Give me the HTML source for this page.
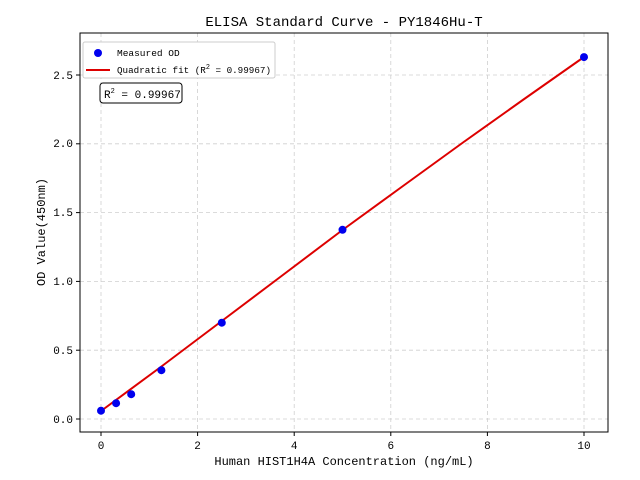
<!DOCTYPE html>
<html><head><meta charset="utf-8"><style>body{margin:0;background:#fff}svg{display:block}text{font-family:"Liberation Mono","WenQuanYi Zen Hei",monospace;fill:#000}</style></head><body>
<svg width="640" height="480" viewBox="0 0 640 480">
<rect width="640" height="480" fill="#fff"/>
<g stroke="#cfcfcf" stroke-dasharray="4,3" stroke-width="0.8">
<line x1="101" y1="33" x2="101" y2="432"/><line x1="197.6" y1="33" x2="197.6" y2="432"/><line x1="294.2" y1="33" x2="294.2" y2="432"/><line x1="390.8" y1="33" x2="390.8" y2="432"/><line x1="487.4" y1="33" x2="487.4" y2="432"/><line x1="584" y1="33" x2="584" y2="432"/>
<line x1="80" y1="419" x2="608" y2="419"/><line x1="80" y1="350.2" x2="608" y2="350.2"/><line x1="80" y1="281.4" x2="608" y2="281.4"/><line x1="80" y1="212.6" x2="608" y2="212.6"/><line x1="80" y1="143.8" x2="608" y2="143.8"/><line x1="80" y1="75" x2="608" y2="75"/>
</g>
<polyline fill="none" stroke="#dd0000" stroke-width="2" points="101,411 161.4,366.5 221.8,321 282.2,275.5 342.5,230 403,186 463,142.5 523.5,99.5 584,57"/>
<g fill="#0000ee">
<circle cx="101" cy="410.7" r="4"/><circle cx="116.1" cy="403.2" r="4"/><circle cx="131.2" cy="394.2" r="4"/><circle cx="161.4" cy="370.2" r="4"/><circle cx="221.8" cy="322.7" r="4"/><circle cx="342.5" cy="229.8" r="4"/><circle cx="584" cy="57.1" r="4"/>
</g>
<rect x="80" y="33" width="528" height="399" fill="none" stroke="#000" stroke-width="1"/>
<g stroke="#000"><line x1="101" y1="432" x2="101" y2="436"/><line x1="197.6" y1="432" x2="197.6" y2="436"/><line x1="294.2" y1="432" x2="294.2" y2="436"/><line x1="390.8" y1="432" x2="390.8" y2="436"/><line x1="487.4" y1="432" x2="487.4" y2="436"/><line x1="584" y1="432" x2="584" y2="436"/>
<line x1="76" y1="419" x2="80" y2="419"/><line x1="76" y1="350.2" x2="80" y2="350.2"/><line x1="76" y1="281.4" x2="80" y2="281.4"/><line x1="76" y1="212.6" x2="80" y2="212.6"/><line x1="76" y1="143.8" x2="80" y2="143.8"/><line x1="76" y1="75" x2="80" y2="75"/></g>
<g font-size="11" text-anchor="middle"><text x="101" y="449">0</text><text x="197.6" y="449">2</text><text x="294.2" y="449">4</text><text x="390.8" y="449">6</text><text x="487.4" y="449">8</text><text x="584" y="449">10</text></g>
<g font-size="11" text-anchor="end"><text x="73" y="423">0.0</text><text x="73" y="354">0.5</text><text x="73" y="285">1.0</text><text x="73" y="216">1.5</text><text x="73" y="147">2.0</text><text x="73" y="79">2.5</text></g>
<text x="344" y="465" font-size="12" text-anchor="middle">Human HIST1H4A Concentration (ng/mL)</text>
<text transform="translate(45,232) rotate(-90)" font-size="12" text-anchor="middle">OD Value(450nm)</text>
<text x="344" y="26" font-size="14" text-anchor="middle">ELISA Standard Curve - PY1846Hu-T</text>
<rect x="83" y="42" width="192" height="36" rx="2" fill="#fff" stroke="#ccc"/>
<circle cx="98" cy="53" r="4" fill="#0000ee"/>
<text x="117" y="56" font-size="9.5">Measured OD</text>
<line x1="86" y1="70" x2="110" y2="70" stroke="#dd0000" stroke-width="2"/>
<text x="117" y="73" font-size="9.5" textLength="154" lengthAdjust="spacingAndGlyphs">Quadratic fit (R<tspan dy="-4" font-size="7">2</tspan><tspan dy="4"> = 0.99967)</tspan></text>
<rect x="100" y="83" width="82" height="20" rx="3" fill="#fff" stroke="#000"/>
<text x="104" y="98" font-size="11">R<tspan dy="-5" font-size="7">2</tspan><tspan dy="5"> = 0.99967</tspan></text>
</svg>
</body></html>
